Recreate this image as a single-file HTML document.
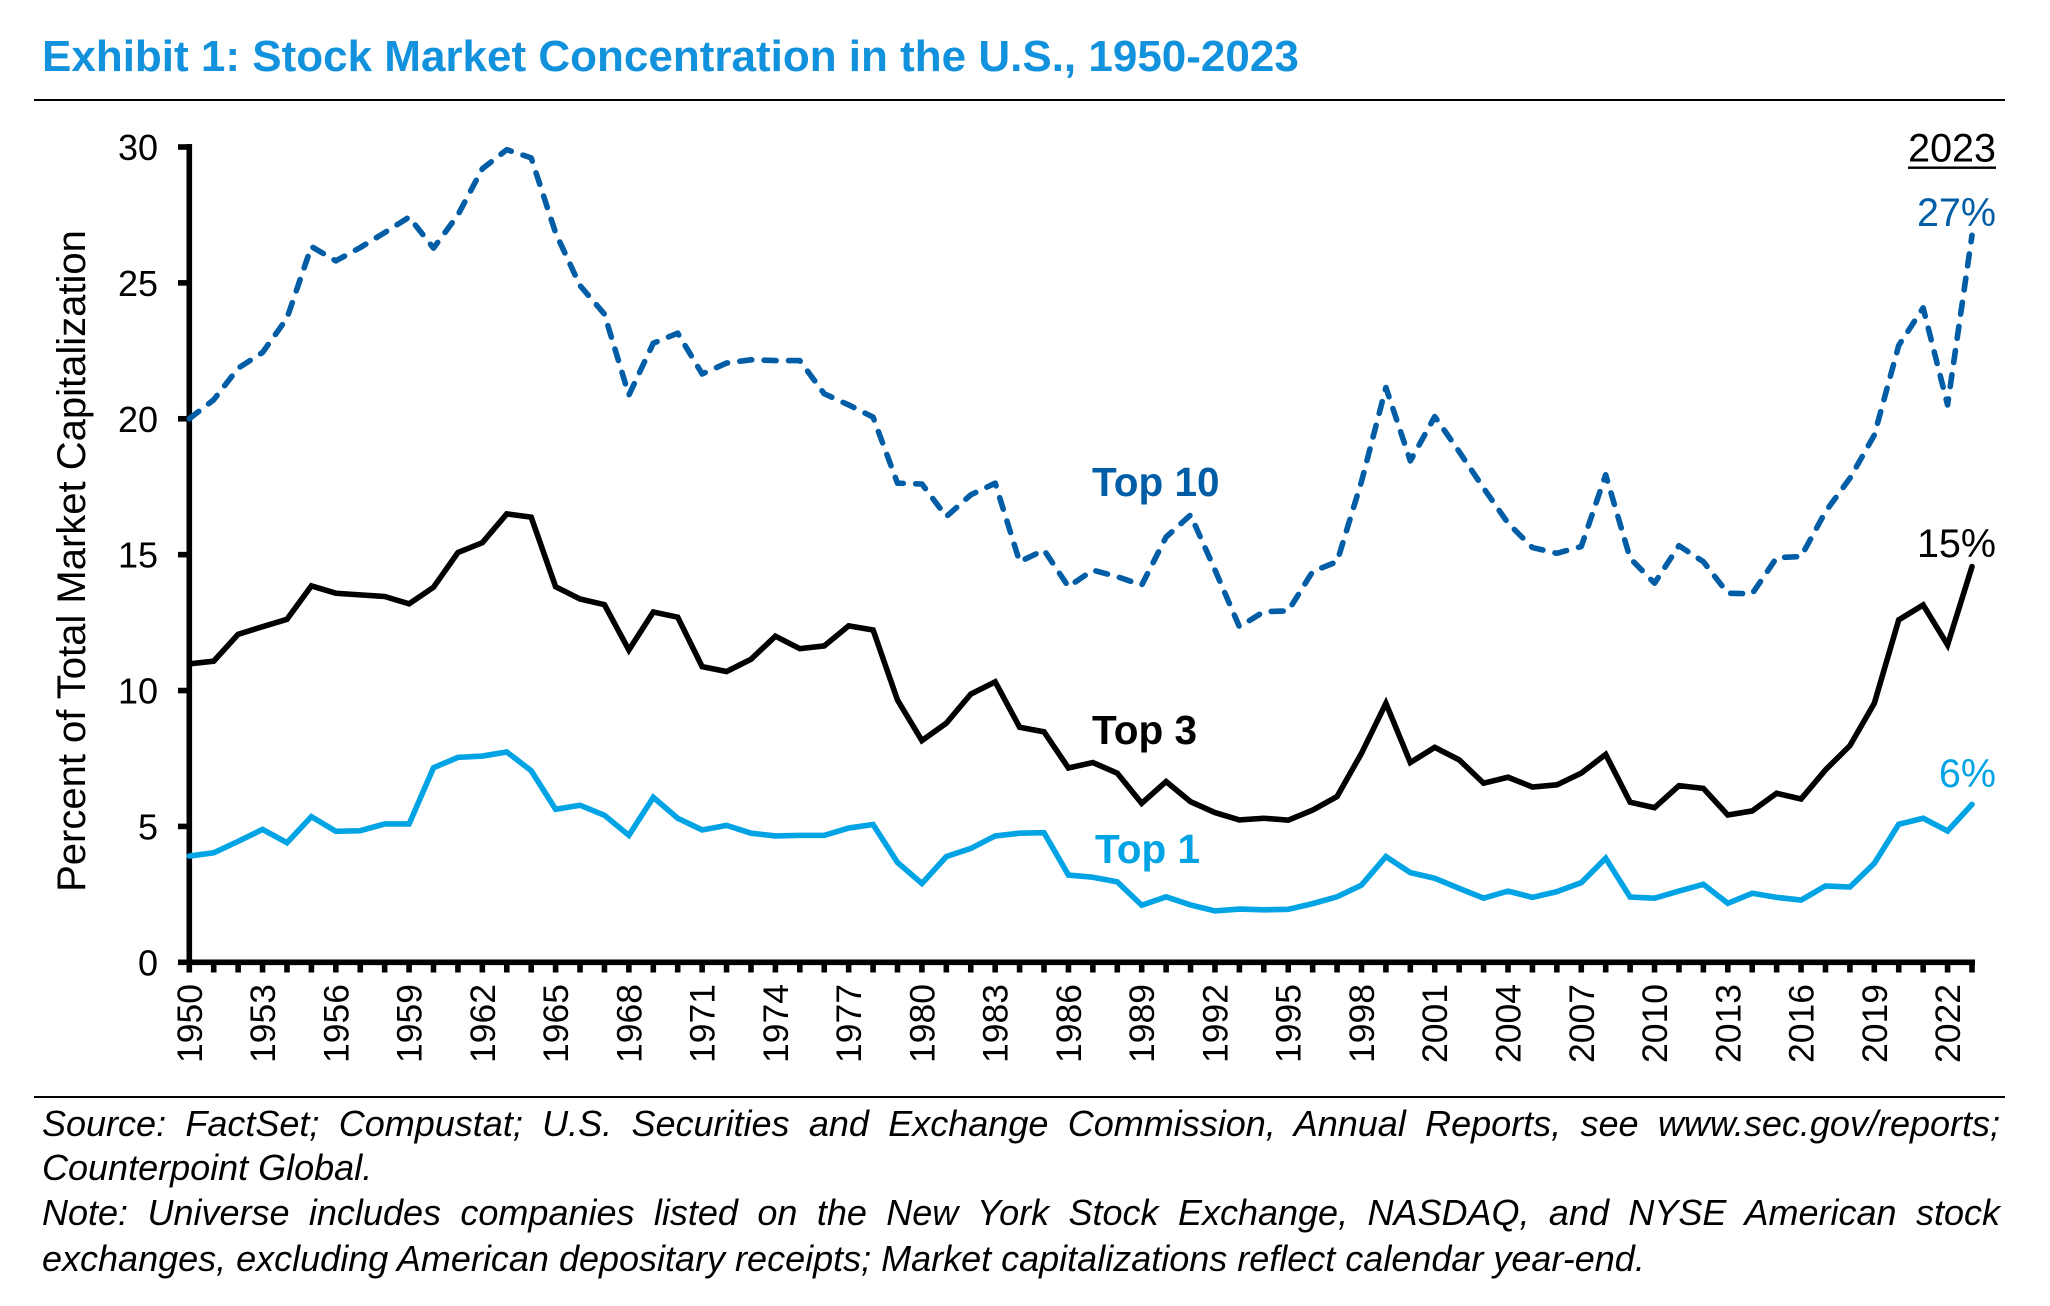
<!DOCTYPE html>
<html lang="en">
<head>
<meta charset="utf-8">
<title>Exhibit 1: Stock Market Concentration in the U.S., 1950-2023</title>
<style>
html,body{margin:0;padding:0;background:#fff;}
#page{position:relative;width:2050px;height:1306px;overflow:hidden;background:#fff;font-family:"Liberation Sans",Arial,sans-serif;}
#chart{position:absolute;left:0;top:0;}
.title{position:absolute;left:42px;top:32px;font-size:44px;line-height:50px;font-weight:bold;color:#1291DD;white-space:nowrap;}
.rule{position:absolute;left:34px;width:1971px;height:2px;background:#000;}
.note{position:absolute;left:42px;width:1958px;font-size:36px;line-height:45px;font-style:italic;color:#000;white-space:nowrap;}
.just{white-space:normal;text-align:justify;text-align-last:justify;}
</style>
</head>
<body>
<div id="page">
<div class="title">Exhibit 1: Stock Market Concentration in the U.S., 1950-2023</div>
<div class="rule" style="top:99px"></div>
<svg id="chart" width="2050" height="1306" viewBox="0 0 2050 1306"></svg>
<div class="rule" style="top:1096px"></div>
<div class="note just" style="top:1101px">Source: FactSet; Compustat; U.S. Securities and Exchange Commission, Annual Reports, see www.sec.gov/reports;</div>
<div class="note" style="top:1145px">Counterpoint Global.</div>
<div class="note just" style="top:1190px">Note: Universe includes companies listed on the New York Stock Exchange, NASDAQ, and NYSE American stock</div>
<div class="note" style="top:1236px">exchanges, excluding American depositary receipts; Market capitalizations reflect calendar year-end.</div>
</div>
<script>
const years = [1950,1951,1952,1953,1954,1955,1956,1957,1958,1959,1960,1961,1962,1963,1964,1965,1966,1967,1968,1969,1970,1971,1972,1973,1974,1975,1976,1977,1978,1979,1980,1981,1982,1983,1984,1985,1986,1987,1988,1989,1990,1991,1992,1993,1994,1995,1996,1997,1998,1999,2000,2001,2002,2003,2004,2005,2006,2007,2008,2009,2010,2011,2012,2013,2014,2015,2016,2017,2018,2019,2020,2021,2022,2023];
const top10 = [20.0,20.7,21.86,22.44,23.7,26.34,25.81,26.3,26.85,27.42,26.28,27.5,29.2,29.9,29.6,26.84,24.9,23.85,20.87,22.78,23.15,21.65,22.05,22.17,22.14,22.14,20.92,20.51,20.06,17.63,17.6,16.4,17.2,17.63,14.74,15.17,13.82,14.43,14.19,13.88,15.65,16.46,14.44,12.35,12.9,12.93,14.38,14.74,17.69,21.15,18.45,20.08,18.79,17.45,16.16,15.26,15.05,15.3,17.94,14.87,13.95,15.33,14.74,13.58,13.56,14.89,14.93,16.58,17.81,19.4,22.7,24.08,20.51,26.75];
const top3 = [10.98,11.08,12.07,12.35,12.62,13.85,13.58,13.52,13.46,13.19,13.8,15.08,15.44,16.5,16.38,13.82,13.37,13.16,11.49,12.89,12.7,10.88,10.7,11.15,12.0,11.54,11.64,12.38,12.23,9.65,8.16,8.8,9.87,10.32,8.65,8.48,7.15,7.35,6.96,5.85,6.65,5.91,5.51,5.24,5.3,5.23,5.6,6.1,7.69,9.53,7.35,7.91,7.45,6.59,6.81,6.45,6.53,6.96,7.65,5.89,5.69,6.5,6.4,5.42,5.57,6.22,6.01,7.08,7.97,9.53,12.6,13.15,11.68,14.56];
const top1 = [3.91,4.03,4.45,4.89,4.4,5.36,4.82,4.84,5.09,5.09,7.16,7.54,7.59,7.74,7.05,5.63,5.78,5.41,4.67,6.07,5.3,4.87,5.04,4.75,4.65,4.67,4.67,4.94,5.07,3.67,2.9,3.89,4.19,4.65,4.75,4.77,3.21,3.13,2.96,2.1,2.41,2.11,1.89,1.96,1.93,1.95,2.16,2.41,2.84,3.89,3.3,3.09,2.72,2.36,2.62,2.39,2.6,2.93,3.83,2.4,2.36,2.62,2.87,2.17,2.54,2.39,2.29,2.81,2.77,3.64,5.08,5.3,4.83,5.81];
const yTicks = [0,5,10,15,20,25,30];
const xLabels = [1950,1953,1956,1959,1962,1965,1968,1971,1974,1977,1980,1983,1986,1989,1992,1995,1998,2001,2004,2007,2010,2013,2016,2019,2022];

const svgNS = 'http://www.w3.org/2000/svg';
const svg = document.getElementById('chart');
const FONT = '"Liberation Sans", Arial, sans-serif';

function xScale(year){
  return 189.3 + (year - years[0]) * (1972 - 189.3) / (years[years.length - 1] - years[0]);
}
function yScale(v){
  return 962.3 - v * (962.3 - 147) / 30;
}
function make(tag, attrs, text){
  const el = document.createElementNS(svgNS, tag);
  for (const k in attrs) el.setAttribute(k, attrs[k]);
  if (text !== undefined) el.textContent = text;
  svg.appendChild(el);
  return el;
}

// axes
const yAxisLine = make('line', {x1: xScale(years[0]), x2: xScale(years[0]), y1: yScale(30) - 3, y2: yScale(0) + 3, stroke: '#000', 'stroke-width': 5.6});


const xAxisLine = make('line', {x1: xScale(years[0]) - 3, x2: xScale(years[years.length - 1]) + 3, y1: yScale(0), y2: yScale(0), stroke: '#000', 'stroke-width': 5.6});



yTicks.forEach(function(v){
  const y = yScale(v);
  const tick = make('line', {x1: 178, x2: xScale(years[0]), y1: y, y2: y, stroke: '#000', 'stroke-width': 5.6});
  
  
  const label = make('text', {x: 158, y: y + 13, 'text-anchor': 'end', 'font-size': 36, 'font-family': FONT, fill: '#000'}, String(v));
  
  
});

years.forEach(function(yr){
  const x = xScale(yr);
  const tick = make('line', {x1: x, x2: x, y1: yScale(0), y2: 972.5, stroke: '#000', 'stroke-width': 5.6});
  
  
});

xLabels.forEach(function(yr){
  const x = xScale(yr) + 12.5;
  const label = make('text', {x: x, y: 984, 'text-anchor': 'end', 'font-size': 35.5, 'font-family': FONT, fill: '#000', transform: 'rotate(-90 ' + x + ' 984)'}, String(yr));
  
  
});

const yTitleX = 85;
const yTitleY = 561;
const yTitle = make('text', {x: yTitleX, y: yTitleY, 'text-anchor': 'middle', 'font-size': 40, 'font-family': FONT, fill: '#000', transform: 'rotate(-90 ' + yTitleX + ' ' + yTitleY + ')'}, 'Percent of Total Market Capitalization');



// series
function linePath(values){
  return values.map(function(v, i){
    return (i ? 'L' : 'M') + xScale(years[i]).toFixed(2) + ' ' + yScale(v).toFixed(2);
  }).join(' ');
}
const lineTop10 = make('path', {d: linePath(top10), fill: 'none', stroke: '#005DA6', 'stroke-width': 5.6, 'stroke-linecap': 'round', 'stroke-linejoin': 'round', 'stroke-dasharray': '12 12.4'});


const lineTop3 = make('path', {d: linePath(top3), fill: 'none', stroke: '#000', 'stroke-width': 5.6, 'stroke-linecap': 'round', 'stroke-linejoin': 'miter'});


const lineTop1 = make('path', {d: linePath(top1), fill: 'none', stroke: '#00A3E4', 'stroke-width': 5.6, 'stroke-linecap': 'round', 'stroke-linejoin': 'miter'});



// labels
const labelTop10 = make('text', {x: 1092, y: 496, 'font-size': 40.5, 'font-weight': 'bold', 'font-family': FONT, fill: '#005DA6'}, 'Top 10');


const labelTop3 = make('text', {x: 1092, y: 744, 'font-size': 40.5, 'font-weight': 'bold', 'font-family': FONT, fill: '#000'}, 'Top 3');


const labelTop1 = make('text', {x: 1095, y: 863, 'font-size': 40.5, 'font-weight': 'bold', 'font-family': FONT, fill: '#00A3E4'}, 'Top 1');



const head2023 = make('text', {x: 1996, y: 161.5, 'text-anchor': 'end', 'font-size': 39.5, 'font-family': FONT, fill: '#000'}, '2023');


const headUnderline = make('rect', {x: 1908, y: 166.5, width: 88, height: 2.4, fill: '#000'});


const end10 = make('text', {x: 1996, y: 226, 'text-anchor': 'end', 'font-size': 39.5, 'font-family': FONT, fill: '#005DA6'}, '27%');


const end3 = make('text', {x: 1996, y: 557, 'text-anchor': 'end', 'font-size': 39.5, 'font-family': FONT, fill: '#000'}, '15%');


const end1 = make('text', {x: 1996, y: 787, 'text-anchor': 'end', 'font-size': 39.5, 'font-family': FONT, fill: '#00A3E4'}, '6%');


</script>
</body>
</html>
